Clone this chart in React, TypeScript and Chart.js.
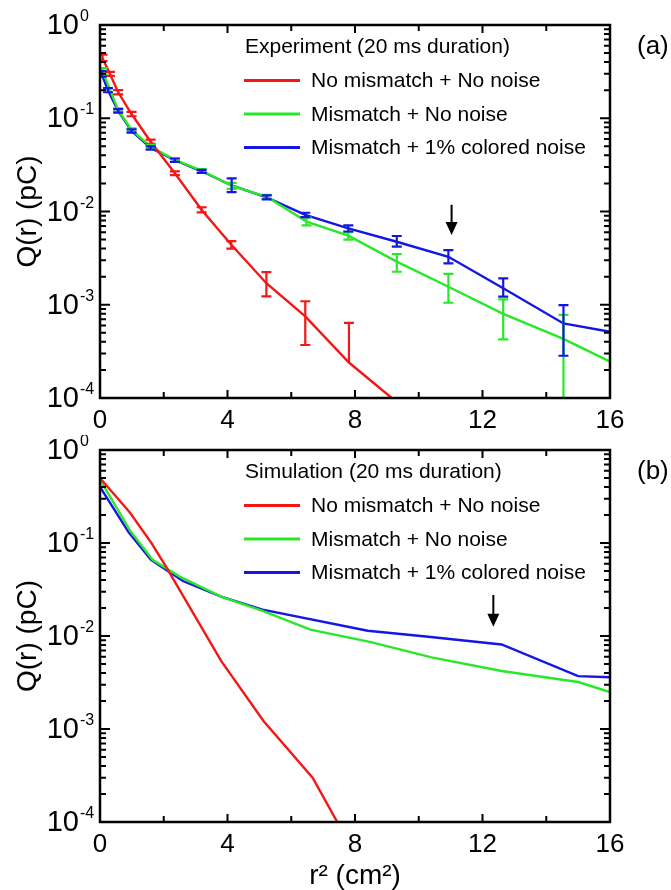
import React, { useEffect, useRef } from 'react';
import { Chart, registerables } from 'chart.js';

Chart.register(...registerables);

const FONT = '"Liberation Sans", Arial, Helvetica, sans-serif';
const RED = 'rgb(245,22,22)';
const GREEN = 'rgb(40,232,40)';
const BLUE = 'rgb(22,22,228)';

const seriesLabels = ['No mismatch + No noise', 'Mismatch + No noise', 'Mismatch + 1% colored noise'];
const expHeader = 'Experiment (20 ms duration)';
const simHeader = 'Simulation (20 ms duration)';
const panelTags = ['(a)', '(b)'];
const yTitle = 'Q(r) (pC)';
const xTitle = 'r² (cm²)';
const xMajorTicks = [0, 4, 8, 12, 16];
const xMinorTicks = [2, 6, 10, 14];
const yDecadeExponents = [0, -1, -2, -3, -4];

// ---- Experiment (panel a) ----
const expRedX = [0.08, 0.31, 0.57, 0.99, 1.59, 2.35, 3.19, 4.12, 5.22, 6.44, 7.81, 9.35];
const expRedY = [0.44, 0.30, 0.19, 0.111, 0.056, 0.0257, 0.0104, 0.0044, 0.0017, 0.00075, 0.00024, 0.000088];
const expRedLo = [0.41, 0.285, 0.18, 0.105, 0.053, 0.0245, 0.0098, 0.0040, 0.00123, 0.00037, 0.00024, null];
const expRedHi = [0.48, 0.315, 0.20, 0.117, 0.059, 0.0270, 0.0111, 0.0048, 0.00224, 0.00109, 0.00064, null];

const expGreenX = [0.08, 0.57, 0.99, 1.59, 2.35, 3.19, 4.13, 5.23, 6.48, 7.79, 9.31, 10.93, 12.65, 14.54, 16];
const expGreenY = [0.32, 0.123, 0.075, 0.0496, 0.0357, 0.0274, 0.0189, 0.0144, 0.0078, 0.0055, 0.0029, 0.00156, 0.0008, 0.00043, 0.000245];
const expGreenLo = [0.296, 0.118, 0.072, 0.047, 0.034, 0.026, 0.0175, 0.0137, 0.0071, 0.0050, 0.00226, 0.00105, 0.000426, 0.00005, null];
const expGreenHi = [0.345, 0.128, 0.078, 0.052, 0.037, 0.0285, 0.0203, 0.0151, 0.0086, 0.0060, 0.0035, 0.00214, 0.00114, 0.00078, null];

const expBlueX = [0.05, 0.25, 0.57, 0.99, 1.59, 2.35, 3.19, 4.13, 5.23, 6.44, 7.79, 9.31, 10.93, 12.65, 14.54, 16];
const expBlueY = [0.30, 0.20, 0.12, 0.073, 0.048, 0.0355, 0.027, 0.019, 0.0142, 0.0092, 0.0066, 0.00474, 0.00327, 0.0015, 0.00063, 0.000514];
const expBlueLo = [0.28, 0.19, 0.115, 0.07, 0.046, 0.034, 0.026, 0.0161, 0.0135, 0.0087, 0.0061, 0.0042, 0.00278, 0.00122, 0.000284, null];
const expBlueHi = [0.32, 0.21, 0.125, 0.076, 0.050, 0.037, 0.028, 0.0227, 0.0149, 0.0097, 0.0071, 0.00546, 0.00386, 0.00192, 0.00099, null];

const expArrow = { x: 11.03, from: 0.0118, to: 0.0056 };

// ---- Simulation (panel b) ----
const simRedX = [0, 0.95, 1.62, 2.07, 3.8, 5.13, 6.67, 7.6];
const simRedY = [0.5, 0.21, 0.099, 0.0556, 0.0054, 0.00122, 0.0003, 0.00008];

const simGreenX = [0, 0.95, 1.65, 2.5, 3.8, 5.1, 6.6, 8.5, 10.4, 12.6, 15.0, 16];
const simGreenY = [0.48, 0.135, 0.066, 0.0435, 0.0265, 0.0186, 0.0117, 0.0086, 0.0059, 0.0042, 0.0032, 0.0025];

const simBlueX = [0, 0.9, 1.6, 2.6, 3.8, 5.1, 8.4, 10.3, 12.6, 15.0, 16];
const simBlueY = [0.40, 0.13, 0.066, 0.039, 0.0265, 0.0192, 0.0114, 0.0098, 0.0081, 0.0037, 0.0036];

const simArrow = { x: 12.34, from: 0.0276, to: 0.0126 };

type Series = {
  label: string;
  color: string;
  xs: number[];
  ys: number[];
  lo?: (number | null)[];
  hi?: (number | null)[];
};

type Panel = {
  header: string;
  tag: string;
  series: Series[];
  arrow: { x: number; from: number; to: number };
  canvasH: number;
  padTop: number;
  xAxisH: number;
  showXTitle: boolean;
};

const panels: Panel[] = [
  {
    header: expHeader,
    tag: panelTags[0],
    series: [
      { label: seriesLabels[0], color: RED, xs: expRedX, ys: expRedY, lo: expRedLo, hi: expRedHi },
      { label: seriesLabels[1], color: GREEN, xs: expGreenX, ys: expGreenY, lo: expGreenLo, hi: expGreenHi },
      { label: seriesLabels[2], color: BLUE, xs: expBlueX, ys: expBlueY, lo: expBlueLo, hi: expBlueHi },
    ],
    arrow: expArrow,
    canvasH: 435,
    padTop: 25,
    xAxisH: 37,
    showXTitle: false,
  },
  {
    header: simHeader,
    tag: panelTags[1],
    series: [
      { label: seriesLabels[0], color: RED, xs: simRedX, ys: simRedY },
      { label: seriesLabels[1], color: GREEN, xs: simGreenX, ys: simGreenY },
      { label: seriesLabels[2], color: BLUE, xs: simBlueX, ys: simBlueY },
    ],
    arrow: simArrow,
    canvasH: 455,
    padTop: 15,
    xAxisH: 68,
    showXTitle: true,
  },
];

function decorPlugin(panel: Panel) {
  return {
    id: 'decor',
    afterDatasetsDraw(chart: any) {
      const { ctx, chartArea: a, scales } = chart;
      const xs = scales.x;
      const ys = scales.y;
      ctx.save();
      ctx.beginPath();
      ctx.rect(a.left, a.top, a.right - a.left, a.bottom - a.top);
      ctx.clip();
      ctx.lineWidth = 2.2;
      for (const s of panel.series) {
        if (!s.lo || !s.hi) continue;
        ctx.strokeStyle = s.color;
        for (let i = 0; i < s.xs.length; i++) {
          const lo = s.lo[i];
          const hi = s.hi[i];
          if (lo == null || hi == null) continue;
          const px = xs.getPixelForValue(s.xs[i]);
          const pl = ys.getPixelForValue(lo);
          const ph = ys.getPixelForValue(hi);
          ctx.beginPath();
          ctx.moveTo(px, pl);
          ctx.lineTo(px, ph);
          ctx.moveTo(px - 5, ph);
          ctx.lineTo(px + 5, ph);
          if (lo !== s.ys[i]) {
            ctx.moveTo(px - 5, pl);
            ctx.lineTo(px + 5, pl);
          }
          ctx.stroke();
        }
      }
      ctx.restore();
    },
    afterDraw(chart: any) {
      const { ctx, chartArea: a, scales } = chart;
      const xs = scales.x;
      const ys = scales.y;
      ctx.save();
      // frame
      ctx.strokeStyle = '#000';
      ctx.lineWidth = 2.5;
      ctx.strokeRect(a.left, a.top, a.right - a.left, a.bottom - a.top);
      // x ticks (inward, top and bottom)
      ctx.lineWidth = 2;
      const xt = (v: number, len: number) => {
        const px = xs.getPixelForValue(v);
        ctx.beginPath();
        ctx.moveTo(px, a.bottom);
        ctx.lineTo(px, a.bottom - len);
        ctx.moveTo(px, a.top);
        ctx.lineTo(px, a.top + len);
        ctx.stroke();
      };
      xMajorTicks.forEach((v) => xt(v, 8));
      xMinorTicks.forEach((v) => xt(v, 6));
      // y ticks (inward, left and right)
      const yt = (v: number, len: number) => {
        const py = ys.getPixelForValue(v);
        ctx.beginPath();
        ctx.moveTo(a.left, py);
        ctx.lineTo(a.left + len, py);
        ctx.moveTo(a.right, py);
        ctx.lineTo(a.right - len, py);
        ctx.stroke();
      };
      yDecadeExponents.forEach((e) => {
        yt(Math.pow(10, e), 10);
        if (e > -4) {
          for (let m = 2; m <= 9; m++) yt(m * Math.pow(10, e - 1), 6);
        }
      });
      // y tick labels 10^n
      ctx.fillStyle = '#000';
      yDecadeExponents.forEach((e) => {
        const py = ys.getPixelForValue(Math.pow(10, e));
        ctx.font = `29px ${FONT}`;
        ctx.textAlign = 'right';
        ctx.textBaseline = 'middle';
        ctx.fillText('10', a.left - 21, py + 1);
        ctx.font = `16px ${FONT}`;
        ctx.textAlign = 'left';
        ctx.textBaseline = 'alphabetic';
        ctx.fillText(String(e), a.left - 20, py - 4);
      });
      // legend
      ctx.textAlign = 'left';
      ctx.textBaseline = 'middle';
      ctx.font = `21px ${FONT}`;
      ctx.fillText(panel.header, 245, a.top + 22.5);
      const rows = [55.5, 89, 122.5];
      panel.series.forEach((s, i) => {
        const y = a.top + rows[i];
        ctx.strokeStyle = s.color;
        ctx.lineWidth = 3;
        ctx.beginPath();
        ctx.moveTo(244, y);
        ctx.lineTo(300, y);
        ctx.stroke();
        ctx.fillStyle = '#000';
        ctx.fillText(s.label, 311, y + 1);
      });
      // arrow
      const ax = xs.getPixelForValue(panel.arrow.x);
      const ay0 = ys.getPixelForValue(panel.arrow.from);
      const ay1 = ys.getPixelForValue(panel.arrow.to);
      ctx.strokeStyle = '#000';
      ctx.fillStyle = '#000';
      ctx.lineWidth = 2;
      ctx.beginPath();
      ctx.moveTo(ax, ay0);
      ctx.lineTo(ax, ay1 - 10);
      ctx.stroke();
      ctx.beginPath();
      ctx.moveTo(ax - 6, ay1 - 13);
      ctx.lineTo(ax + 6, ay1 - 13);
      ctx.lineTo(ax, ay1);
      ctx.closePath();
      ctx.fill();
      // panel tag
      ctx.font = `26px ${FONT}`;
      ctx.textAlign = 'left';
      ctx.textBaseline = 'middle';
      ctx.fillText(panel.tag, 637, a.top + 22);
      ctx.restore();
    },
  };
}

function buildChart(canvas: HTMLCanvasElement, panel: Panel) {
  const datasets = panel.series.map((s) => ({
    label: s.label,
    data: s.xs.map((x, i) => ({ x, y: s.ys[i] })),
    borderColor: s.color,
    backgroundColor: s.color,
    borderWidth: 2.4,
    pointRadius: 0,
    tension: 0,
    fill: false,
  }));
  return new Chart(canvas, {
    type: 'line',
    data: { datasets },
    options: {
      animation: false,
      responsive: false,
      events: [],
      layout: { padding: { left: 0, right: 61, top: panel.padTop, bottom: 0 } },
      scales: {
        x: {
          type: 'linear',
          min: 0,
          max: 16,
          afterFit: (s: any) => {
            s.height = panel.xAxisH;
          },
          grid: { display: false, drawTicks: false },
          border: { display: false },
          ticks: {
            stepSize: 4,
            padding: 7,
            color: '#000',
            font: { family: FONT, size: 26 },
            maxRotation: 0,
            autoSkip: false,
          },
          title: {
            display: panel.showXTitle,
            text: xTitle,
            color: '#000',
            font: { family: FONT, size: 28, lineHeight: 1 },
            padding: 0,
          },
        },
        y: {
          type: 'logarithmic',
          min: 1e-4,
          max: 1,
          afterFit: (s: any) => {
            s.width = 100;
          },
          grid: { display: false, drawTicks: false },
          border: { display: false },
          ticks: { display: false },
          title: {
            display: true,
            text: yTitle,
            color: '#000',
            font: { family: FONT, size: 28 },
            padding: { top: 11, bottom: 0 },
          },
        },
      },
      plugins: { legend: { display: false }, tooltip: { enabled: false } },
    } as any,
    plugins: [decorPlugin(panel)],
  });
}

export default function App() {
  const topRef = useRef<HTMLCanvasElement | null>(null);
  const botRef = useRef<HTMLCanvasElement | null>(null);
  useEffect(() => {
    const charts: Chart[] = [];
    if (topRef.current) charts.push(buildChart(topRef.current, panels[0]));
    if (botRef.current) charts.push(buildChart(botRef.current, panels[1]));
    return () => charts.forEach((c) => c.destroy());
  }, []);
  return (
    <div style={{ position: 'absolute', left: 0, top: 0, width: 671, height: 890, background: '#fff' }}>
      <canvas
        ref={topRef}
        width={671}
        height={panels[0].canvasH}
        style={{ display: 'block', width: 671, height: panels[0].canvasH }}
      />
      <canvas
        ref={botRef}
        width={671}
        height={panels[1].canvasH}
        style={{ display: 'block', width: 671, height: panels[1].canvasH }}
      />
    </div>
  );
}
